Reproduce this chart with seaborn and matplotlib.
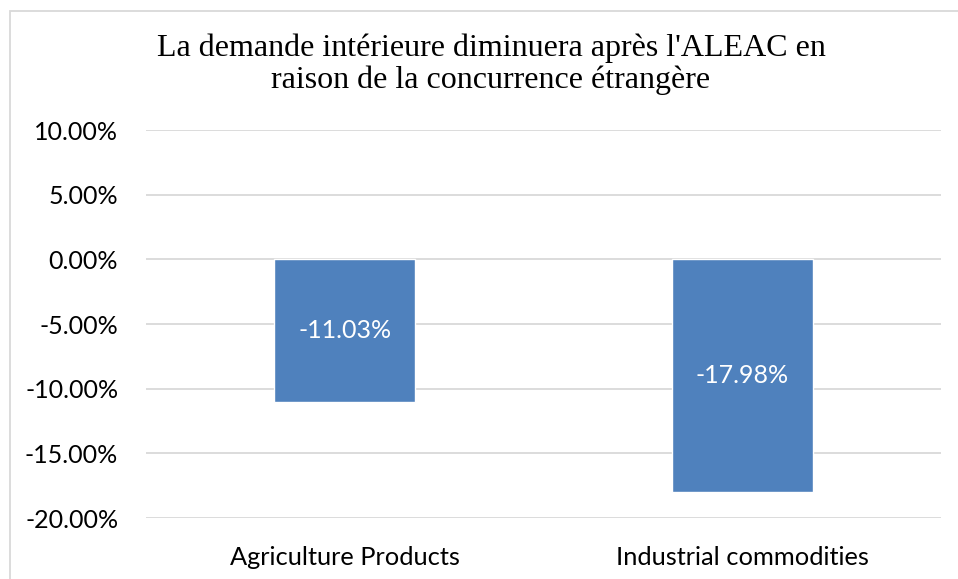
import pandas as pd
import matplotlib
matplotlib.use('Agg')
import matplotlib.pyplot as plt
import matplotlib.patches as mpatches
import seaborn as sns

# data
categories = ['Agriculture Products', 'Industrial commodities']
values = [-0.1103, -0.1798]
bar_labels = ['-11.03%', '-17.98%']
y_ticks = [0.10, 0.05, 0.0, -0.05, -0.10, -0.15, -0.20]

chart_title = "La demande intérieure diminuera après l'ALEAC en\nraison de la concurrence étrangère"

df = pd.DataFrame({'category': categories, 'value': values})

sns.set_theme(style='white')
plt.rcParams['font.family'] = ['Lato', 'DejaVu Sans']
plt.rcParams['text.color'] = 'black'
plt.rcParams['xtick.color'] = 'black'
plt.rcParams['ytick.color'] = 'black'

fig = plt.figure(figsize=(9.58, 5.79), dpi=100)
ax = fig.add_axes([146 / 958, 1 - 518 / 579, 795 / 958, 388 / 579])

sns.barplot(data=df, x='category', y='value', color='#4F81BD', width=0.355,
            saturation=1, ax=ax, zorder=3)

ax.set_ylim(-0.20, 0.10)
ax.set_yticks(y_ticks)
ax.set_yticklabels([f'{v * 100:.2f}%' for v in y_ticks])
ax.yaxis.grid(True, color='#D9D9D9', linewidth=1.3, zorder=0)
ax.set_axisbelow(True)
for s in ax.spines.values():
    s.set_visible(False)
ax.set_xlabel('')
ax.set_ylabel('')
ax.tick_params(axis='y', length=0, pad=20, labelsize=18)
ax.tick_params(axis='x', length=0, pad=20, labelsize=18.3)

# value labels inside the bars
for p, txt in zip(ax.patches, bar_labels):
    ax.text(p.get_x() + p.get_width() / 2, p.get_height() / 2, txt,
            ha='center', va='center', color='white', fontsize=18)

fig.text(491 / 958, 1 - 64 / 579, chart_title, ha='center', va='center',
         fontsize=23, family='Liberation Serif', linespacing=1.1)

# chart frame (cropped at right and bottom in the original)
frame = mpatches.Rectangle((10 / 958, -0.1), 1.2, 1 - 11 / 579 + 0.1,
                           transform=fig.transFigure, fill=False,
                           edgecolor='#D9D9D9', linewidth=1.3)
fig.patches.append(frame)

fig.savefig('out.png', dpi=100)
